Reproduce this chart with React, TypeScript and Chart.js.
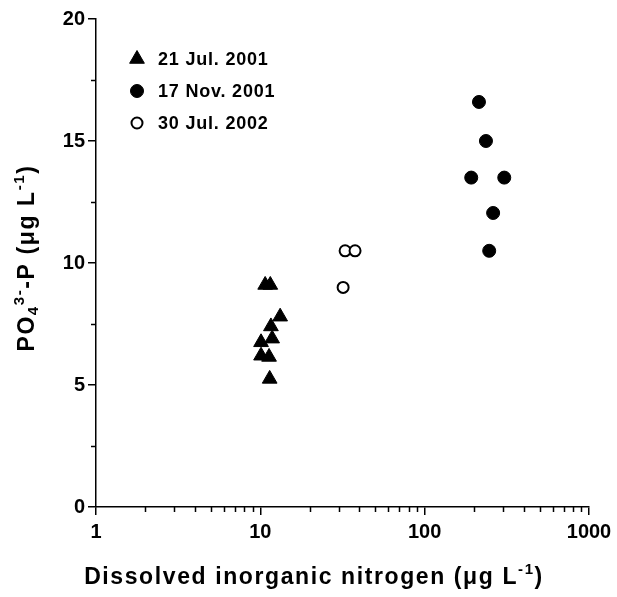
import React, { useEffect, useRef } from 'react';
import { Chart, registerables } from 'chart.js';
import { drawPoint } from 'chart.js/helpers';

Chart.register(...registerables);

const FONT = '"Liberation Sans", Arial, Helvetica, sans-serif';

// ---- data ----
const seriesLabels = ['21 Jul. 2001', '17 Nov. 2001', '30 Jul. 2002'];

const jul2001N = [10.7, 11.5, 13.2, 11.6, 11.8, 10.1, 10.1, 11.3, 11.4];
const jul2001P = [9.1, 9.1, 7.8, 7.4, 6.9, 6.75, 6.2, 6.15, 5.25];

const nov2001N = [214, 236, 192, 305, 261, 247];
const nov2001P = [16.6, 15.0, 13.5, 13.5, 12.05, 10.5];

const jul2002N = [32.8, 37.7, 31.9];
const jul2002P = [10.5, 10.5, 9.0];

const xTickValues = [1, 10, 100, 1000];
const xMinorMultipliers = [2, 3, 4, 5, 6, 7, 8, 9];
const yMin = 0;
const yMax = 20;
const yMajorStep = 5;
const yMinorStep = 2.5;

type Seg = { t: string; s?: 'sup' | 'sub' };
const xTitle: Seg[] = [{ t: 'Dissolved inorganic nitrogen (μg L' }, { t: '-1', s: 'sup' }, { t: ')' }];
const yTitle: Seg[] = [
  { t: 'PO' },
  { t: '4', s: 'sub' },
  { t: '3-', s: 'sup' },
  { t: '-P (μg L' },
  { t: '-1', s: 'sup' },
  { t: ')' },
];

const toPts = (xs: number[], ys: number[]) => xs.map((x, i) => ({ x, y: ys[i] }));

const TITLE_SIZE = 23;
const SMALL_SIZE = 15;

function drawRich(ctx: any, segs: Seg[], cx: number, cy: number) {
  const big = `bold ${TITLE_SIZE}px ${FONT}`;
  const small = `bold ${SMALL_SIZE}px ${FONT}`;
  ctx.letterSpacing = '1.6px';
  let total = 0;
  const widths = segs.map((s) => {
    ctx.font = s.s ? small : big;
    const w = ctx.measureText(s.t).width;
    total += w;
    return w;
  });
  let x = cx - total / 2;
  ctx.textBaseline = 'middle';
  ctx.textAlign = 'left';
  ctx.fillStyle = '#000';
  segs.forEach((s, i) => {
    ctx.font = s.s ? small : big;
    let y = cy;
    if (s.s === 'sup') y = cy - 8;
    if (s.s === 'sub') y = cy + 6;
    ctx.fillText(s.t, x, y);
    x += widths[i];
  });
  ctx.letterSpacing = '0px';
}

const extrasPlugin = {
  id: 'extras',
  afterDraw(chart: any) {
    const ctx: any = chart.ctx;
    const xs = chart.scales.x;
    const ys = chart.scales.y;
    const area = chart.chartArea;
    ctx.save();
    ctx.strokeStyle = '#000';
    ctx.lineWidth = 1.5;
    // minor x ticks
    ctx.beginPath();
    for (let d = 0; d < xTickValues.length - 1; d++) {
      for (const m of xMinorMultipliers) {
        const px = Math.round(xs.getPixelForValue(xTickValues[d] * m)) + 0.5;
        ctx.moveTo(px, area.bottom);
        ctx.lineTo(px, area.bottom + 5);
      }
    }
    // minor y ticks
    for (let v = yMin + yMinorStep; v < yMax; v += yMajorStep) {
      const py = Math.round(ys.getPixelForValue(v)) + 0.5;
      ctx.moveTo(area.left, py);
      ctx.lineTo(area.left - 5, py);
    }
    ctx.stroke();

    // axis titles
    drawRich(ctx, xTitle, 314, 578);
    ctx.save();
    ctx.translate(28, 258);
    ctx.rotate(-Math.PI / 2);
    drawRich(ctx, yTitle, 0, 0);
    ctx.restore();

    // legend
    const lx = area.left + 41;
    const rows = [59, 91, 123];
    chart.data.datasets.forEach((ds: any, i: number) => {
      const y = rows[i];
      ctx.save();
      ctx.fillStyle = ds.backgroundColor;
      ctx.strokeStyle = ds.borderColor;
      ctx.lineWidth = ds.borderWidth;
      drawPoint(ctx, { pointStyle: ds.pointStyle, rotation: 0, radius: ds.pointRadius, borderWidth: ds.borderWidth } as any, lx, y);
      ctx.restore();
      ctx.font = `bold 18px ${FONT}`;
      ctx.letterSpacing = '0.8px';
      ctx.fillStyle = '#000';
      ctx.textAlign = 'left';
      ctx.textBaseline = 'middle';
      ctx.fillText(ds.label, lx + 21, y + 1);
      ctx.letterSpacing = '0px';
    });
    ctx.restore();
  },
};

export default function App() {
  const ref = useRef<HTMLCanvasElement | null>(null);
  useEffect(() => {
    document.body.style.margin = '0';
    const canvas = ref.current!;
    const chart = new Chart(canvas, {
      type: 'scatter',
      data: {
        datasets: [
          {
            label: seriesLabels[0],
            data: toPts(jul2001N, jul2001P),
            pointStyle: 'triangle',
            pointRadius: 8.5,
            backgroundColor: '#000',
            borderColor: '#000',
            borderWidth: 1,
          },
          {
            label: seriesLabels[1],
            data: toPts(nov2001N, nov2001P),
            pointStyle: 'circle',
            pointRadius: 6.5,
            backgroundColor: '#000',
            borderColor: '#000',
            borderWidth: 1,
          },
          {
            label: seriesLabels[2],
            data: toPts(jul2002N, jul2002P),
            pointStyle: 'circle',
            pointRadius: 5.5,
            backgroundColor: '#fff',
            borderColor: '#000',
            borderWidth: 2,
          },
        ],
      },
      options: {
        responsive: false,
        animation: false,
        devicePixelRatio: 1,
        layout: { padding: { left: 0, right: 28, top: 19, bottom: 0 } },
        plugins: {
          legend: { display: false },
          tooltip: { enabled: false },
          title: { display: false },
        },
        scales: {
          x: {
            type: 'logarithmic',
            min: 1,
            max: 1000,
            afterBuildTicks: (scale: any) => {
              scale.ticks = xTickValues.map((v) => ({ value: v, major: true }));
            },
            afterFit: (scale: any) => {
              scale.height = 90;
            },
            ticks: {
              autoSkip: false,
              maxRotation: 0,
              padding: 5,
              color: '#000',
              font: { family: FONT, size: 20, weight: 'bold' },
              callback: (v: any) => String(v),
            },
            grid: { drawOnChartArea: false, color: '#000', lineWidth: 1.5, tickLength: 8 },
            border: { color: '#000', width: 1.5 },
          },
          y: {
            type: 'linear',
            min: yMin,
            max: yMax,
            afterFit: (scale: any) => {
              scale.width = 96;
            },
            ticks: {
              stepSize: yMajorStep,
              padding: 3,
              color: '#000',
              font: { family: FONT, size: 20, weight: 'bold' },
            },
            grid: { drawOnChartArea: false, color: '#000', lineWidth: 1.5, tickLength: 8 },
            border: { color: '#000', width: 1.5 },
          },
        },
      },
      plugins: [extrasPlugin],
    });
    return () => chart.destroy();
  }, []);
  return (
    <div style={{ width: 617, height: 597 }}>
      <canvas ref={ref} width={617} height={597} style={{ width: 617, height: 597, display: 'block' }} />
    </div>
  );
}
